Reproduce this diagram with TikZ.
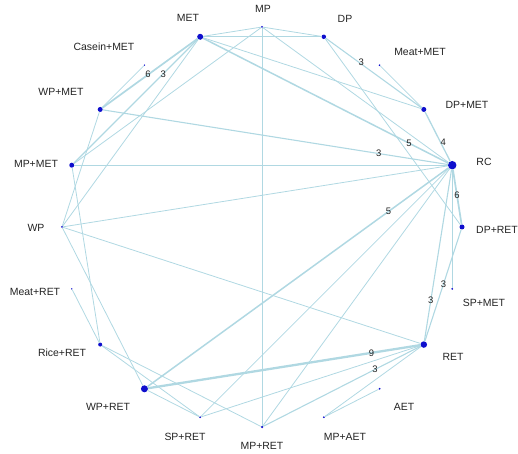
\documentclass[tikz,border=0pt]{standalone}
\usepackage{fontspec}
\setmainfont{Liberation Sans}
\usepackage{tikz}
\usetikzlibrary{positioning, calc}
\definecolor{nmaedge}{RGB}{176, 216, 226}
\definecolor{nmadot}{RGB}{15, 15, 205}
\definecolor{nmatext}{RGB}{35, 35, 35}

\tikzset{
  trtdot/.style={circle, fill=nmadot, inner sep=0pt, minimum size=#1},
  trtdot/.default=2bp,
  trt/.style={font=\fontsize{10.5}{12}\selectfont, text=nmatext, inner sep=0pt},
  link/.style={draw=nmaedge, line width=#1},
  link/.default=0.8bp,
  cnt/.style={font=\fontsize{9.5}{11}\selectfont, text=nmatext, inner sep=0pt}
}

\begin{document}
\begin{tikzpicture}[x=1bp, y=1bp]
    \useasboundingbox (-262,-227) rectangle (256,227);

    % treatments on the circle: name/angle/size/text/label x/label y
    \foreach \n/\a/\s/\t/\lx/\ly in {
        mp/90/2/MP/1/218,
        dp/72/4.5/DP/83/208,
        meatmet/54/1.8/Meat+MET/158/175,
        dpmet/36/5/DP+MET/205/122,
        rc/18/8.5/RC/222/65,
        dpret/0/5/DP+RET/235/-3,
        spmet/-18/2/SP+MET/222/-76,
        ret/-36/6.5/RET/191/-130,
        aet/-54/2/AET/142/-180,
        mpaet/-72/2/MP+AET/83/-210,
        mpret/-90/2.5/MP+RET/0/-219,
        spret/-108/2/SP+RET/-77/-210,
        wpret/-126/7/WP+RET/-154/-180,
        riceret/-144/4/Rice+RET/-200/-126,
        meatret/-162/1.5/Meat+RET/-227/-65,
        wp/180/2/WP/-226/-1,
        mpmet/162/5/MP+MET/-226/63,
        wpmet/144/5/WP+MET/-201/135,
        caseinmet/126/1.5/Casein+MET/-158/180,
        met/108/6/MET/-74/209} {
      \node[trtdot=\s bp] (\n) at (\a:200) {};
      \node[trt] (\n-lbl) at (\lx,\ly) {\t};
    }

    % single comparisons
    \foreach \u/\v in {met/mp, met/dp, met/dpmet, met/wp, mp/dp, mp/mpret,
        mp/mpmet, mp/rc, dp/dpret, meatmet/dpmet, mpmet/rc, wp/rc, rc/spmet,
        rc/spret, rc/mpret, wp/ret, wp/wpret, wpmet/wp, mpmet/riceret,
        meatret/riceret, riceret/spret, riceret/mpret, wpret/spret, ret/spret,
        ret/mpaet, aet/mpaet, caseinmet/wpmet}
      \draw[link] (\u) -- (\v);

    % comparisons with several studies
    \draw[link=1.7bp] (met) -- node[cnt, pos=.52] {6} (wpmet);
    \draw[link=1.1bp] (met) -- node[cnt, pos=.28] {3} (mpmet);
    \draw[link=1.1bp] (dp) -- node[cnt, pos=.37, yshift=2] {3} (dpmet);
    \draw[link=1.3bp] (dpmet) -- node[cnt, pos=.61, xshift=3] {4} (rc);
    \draw[link=1.5bp] (met) -- node[cnt, pos=.84] {5} (rc);
    \draw[link=1.1bp] (wpmet) -- node[cnt, pos=.80] {3} (rc);
    \draw[link=1.7bp] (rc) -- node[cnt, pos=.47] {6} (dpret);
    \draw[link=1.5bp] (rc) -- node[cnt, pos=.20] {5} (wpret);
    \draw[link=1.1bp] (dpret) -- node[cnt, pos=.49] {3} (ret);
    \draw[link=1.1bp] (rc) -- node[cnt, pos=.76] {3} (ret);
    \draw[link=2.3bp] (ret) -- node[cnt, pos=.18] {9} (wpret);
    \draw[link=1.1bp] (ret) -- node[cnt, pos=.29] {3} (mpret);
\end{tikzpicture}
\end{document}
